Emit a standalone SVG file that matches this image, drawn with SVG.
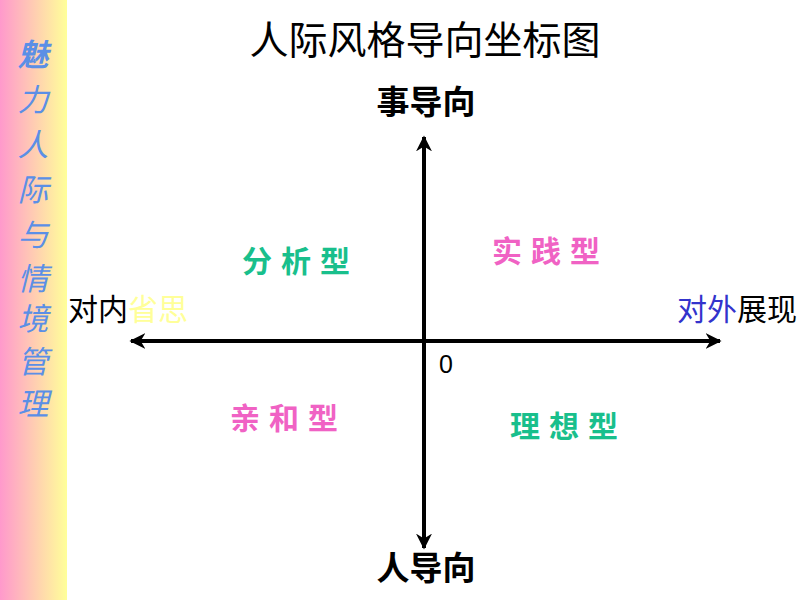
<svg xmlns="http://www.w3.org/2000/svg" width="800" height="600" viewBox="0 0 800 600">
<defs>
<linearGradient id="side" x1="0" y1="0" x2="1" y2="0">
<stop offset="0" stop-color="#FF99CC"/>
<stop offset="1" stop-color="#FFFF99"/>
</linearGradient>
<marker id="ah" viewBox="0 0 10 10" refX="9" refY="5" markerWidth="4" markerHeight="4" orient="auto" markerUnits="strokeWidth">
<path d="M0,0 L10,5 L0,10 L3,5 Z" fill="#000"/>
</marker>
<style>
text{font-family:"Liberation Sans","Noto Sans CJK SC",sans-serif;}
.side{font-size:31px;fill:#5B8FE6;font-style:italic;text-anchor:middle;}
.ax{font-size:33px;fill:#000;font-weight:bold;text-anchor:middle;}
.q{font-size:30px;font-weight:bold;letter-spacing:9px;}
.green{fill:#19BF8C;}
.pink{fill:#F062C4;}
.axis{stroke:#000;stroke-width:4;fill:none;}
</style>
</defs>
<rect x="0" y="0" width="800" height="600" fill="#fff"/>
<rect x="0" y="0" width="67" height="600" fill="url(#side)"/>
<g id="sidebar">
<text class="side" x="33" y="66" font-weight="bold" fill="#3B7BEF">魅</text>
<text class="side" x="33" y="111">力</text>
<text class="side" x="33" y="156">人</text>
<text class="side" x="33" y="201">际</text>
<text class="side" x="33" y="246">与</text>
<text class="side" x="33" y="290">情</text>
<text class="side" x="33" y="330">境</text>
<text class="side" x="33" y="373">管</text>
<text class="side" x="33" y="415">理</text>
</g>
<g id="title"><text x="425" y="54" font-size="39" text-anchor="middle">人际风格导向坐标图</text></g>
<g id="connectors">
<line class="axis" x1="424" y1="548" x2="424" y2="137" marker-end="url(#ah)"/>
<line class="axis" x1="424" y1="137" x2="424" y2="548" marker-end="url(#ah)"/>
<line class="axis" x1="424" y1="341" x2="720" y2="341" marker-end="url(#ah)"/>
<line class="axis" x1="424" y1="341" x2="131" y2="341" marker-end="url(#ah)"/>
</g>
<g id="origin"><text x="439" y="373" font-size="25">0</text></g>
<g id="top"><text class="ax" x="426" y="114">事导向</text></g>
<g id="bottom"><text class="ax" x="426" y="580">人导向</text></g>
<g id="left"><text x="68" y="320" font-size="30"><tspan fill="#000">对内</tspan><tspan fill="#FFFF99">省思</tspan></text></g>
<g id="right"><text x="797" y="320" font-size="30" text-anchor="end"><tspan fill="#3333CC">对外</tspan><tspan fill="#000">展现</tspan></text></g>
<g id="q1"><text class="q green" x="242" y="272">分析型</text></g>
<g id="q2"><text class="q pink" x="492" y="262">实践型</text></g>
<g id="q3"><text class="q pink" x="230" y="429">亲和型</text></g>
<g id="q4"><text class="q green" x="510" y="437">理想型</text></g>
</svg>
